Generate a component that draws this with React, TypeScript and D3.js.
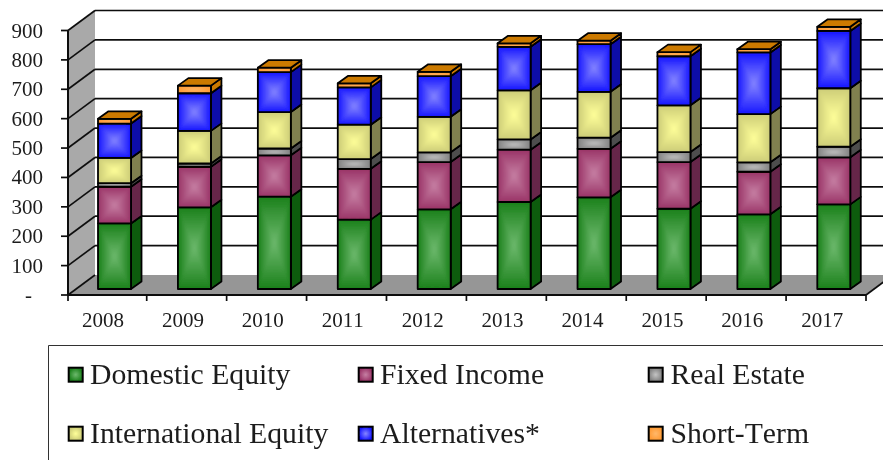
import React from 'react';
import * as d3 from 'd3';

const years = ['2008', '2009', '2010', '2011', '2012', '2013', '2014', '2015', '2016', '2017'];
const yTicks = [0, 100, 200, 300, 400, 500, 600, 700, 800, 900];

const domesticEquity = [223, 278, 314, 236, 271, 296, 312, 273, 254, 288];
const fixedIncome = [125, 138, 141, 173, 161, 178, 165, 159, 145, 160];
const realEstate = [12, 11, 23, 33, 33, 35, 38, 34, 32, 36];
const internationalEquity = [86, 111, 124, 117, 121, 167, 156, 159, 164, 199];
const alternatives = [117, 128, 136, 127, 138, 148, 162, 167, 210, 195];
const shortTerm = [16, 26, 15, 14, 15, 12, 12, 14, 11, 14];

const seriesKeys = ['Domestic Equity', 'Fixed Income', 'Real Estate', 'International Equity', 'Alternatives*', 'Short-Term'];
const seriesValues = [domesticEquity, fixedIncome, realEstate, internationalEquity, alternatives, shortTerm];

// edge, centre, side face
const palette = [
  ['#1a801a', '#6db96d', '#0e5c0e'],
  ['#993366', '#c67fa3', '#662649'],
  ['#808080', '#c4c4c4', '#4d4d4d'],
  ['#cccc77', '#ffff99', '#808050'],
  ['#1414ff', '#8585ff', '#0a0aa8'],
  ['#ff9a33', '#ffb86b', '#cc7a00'],
];

const legendOrder = [
  { series: 0, col: 0, row: 0 },
  { series: 1, col: 1, row: 0 },
  { series: 2, col: 2, row: 0 },
  { series: 3, col: 0, row: 1 },
  { series: 4, col: 1, row: 1 },
  { series: 5, col: 2, row: 1 },
];

const width = 883;
const height = 460;
const axisX = 68;
const depthX = 27;
const depthY = 20;
const barDepthX = 10.5;
const barDepthY = 7.5;
const barWidth = 33;
const barInset = 31.2;
const font = '"Liberation Serif", serif';

const x = d3.scaleBand<string>().domain(years).range([66.8, 866]);
const y = d3.scaleLinear().domain([0, 900]).range([295, 30.5]);

const tableRows = years.map((year, i) => {
  const row: Record<string, number | string> = { year };
  seriesKeys.forEach((k, s) => { row[k] = seriesValues[s][i]; });
  return row;
});
const stacked = d3.stack<any>().keys(seriesKeys)(tableRows);

const pts = (p: number[][]) => p.map(d => d.join(',')).join(' ');

// Excel style rectangular gradient: four triangles meeting in the middle, softened a bit
function GradientRect({ id, x0, y0, w, h, s }: { id: string; x0: number; y0: number; w: number; h: number; s: number }) {
  const cx = x0 + w / 2;
  const cy = y0 + h / 2;
  return (
    <g>
      <clipPath id={id}>
        <rect x={x0} y={y0} width={w} height={h} />
      </clipPath>
      <rect x={x0} y={y0} width={w} height={h} fill={palette[s][0]} />
      <g clipPath={`url(#${id})`}>
        <g filter="url(#faceBlur)" shapeRendering="crispEdges">
          <polygon points={pts([[x0, y0], [x0 + w, y0], [cx, cy]])} fill={`url(#g${s}-t)`} />
          <polygon points={pts([[x0, y0 + h], [x0 + w, y0 + h], [cx, cy]])} fill={`url(#g${s}-b)`} />
          <polygon points={pts([[x0, y0], [x0, y0 + h], [cx, cy]])} fill={`url(#g${s}-l)`} />
          <polygon points={pts([[x0 + w, y0], [x0 + w, y0 + h], [cx, cy]])} fill={`url(#g${s}-r)`} />
        </g>
      </g>
    </g>
  );
}

function Bar({ index }: { index: number }) {
  const bx = (x(years[index]) as number) + barInset;
  return (
    <g stroke="#000" strokeWidth={1.8} strokeLinejoin="round">
      {stacked.map((layer, s) => {
        const top = y(layer[index][1]) - 6;
        const bottom = y(layer[index][0]) - 6;
        const right = bx + barWidth;
        return (
          <g key={s}>
            <polygon
              points={pts([[right, bottom], [right + barDepthX, bottom - barDepthY], [right + barDepthX, top - barDepthY], [right, top]])}
              fill={palette[s][2]}
            />
            <g stroke="none">
              <GradientRect id={`clip${index}-${s}`} x0={bx} y0={top} w={barWidth} h={bottom - top} s={s} />
            </g>
            <rect x={bx} y={top} width={barWidth} height={bottom - top} fill="none" />
            {s === stacked.length - 1 && (
              <polygon
                points={pts([[bx, top], [bx + barDepthX, top - barDepthY], [right + barDepthX, top - barDepthY], [right, top]])}
                fill="#cc7a00"
              />
            )}
          </g>
        );
      })}
    </g>
  );
}

export default function App() {
  const dirs: Record<string, [number, number, number, number]> = {
    t: [0, 0, 0, 1],
    b: [0, 1, 0, 0],
    l: [0, 0, 1, 0],
    r: [1, 0, 0, 0],
  };
  const colX = [68.7, 358.7, 648.7];
  const rowY = [367.7, 426.7];
  const textX = [90, 380, 670.5];
  const textY = [384, 443];
  const band = x.bandwidth();

  return (
    <svg width={width} height={height} style={{ position: 'absolute', left: 0, top: 0, display: 'block', fontKerning: 'none' }}>
      <defs>
        {palette.map((c, s) =>
          Object.entries(dirs).map(([k, d]) => (
            <linearGradient key={`${s}${k}`} id={`g${s}-${k}`} x1={d[0]} y1={d[1]} x2={d[2]} y2={d[3]}>
              <stop offset="0" stopColor={c[0]} />
              <stop offset="1" stopColor={c[1]} />
            </linearGradient>
          ))
        )}
        {palette.map((c, s) => (
          <radialGradient key={s} id={`sw${s}`}>
            <stop offset="0" stopColor={c[1]} />
            <stop offset="1" stopColor={c[0]} />
          </radialGradient>
        ))}
        <filter id="soft" x="0" y="0" width={width} height={height} filterUnits="userSpaceOnUse">
          <feGaussianBlur stdDeviation="0.45" />
        </filter>
        <filter id="faceBlur" x="-0.2" y="-0.2" width="1.4" height="1.4">
          <feGaussianBlur stdDeviation="1.6" />
        </filter>
      </defs>
      <rect width={width} height={height} fill="#fff" />
      <g filter="url(#soft)">
        {/* walls */}
        <polygon
          points={pts([[axisX, y(0)], [axisX + depthX, y(0) - depthY], [axisX + depthX, y(900) - depthY], [axisX, y(900)]])}
          fill="#a9a9a9"
        />
        <polygon
          points={pts([[axisX, y(0)], [866, y(0)], [866 + depthX, y(0) - depthY], [axisX + depthX, y(0) - depthY]])}
          fill="#969696"
        />

        {/* gridlines */}
        <g stroke="#111" strokeWidth={1.7} fill="none">
          {yTicks.map(t => (
            <g key={t}>
              <line x1={61} x2={axisX} y1={y(t)} y2={y(t)} />
              <line x1={axisX} x2={axisX + depthX} y1={y(t)} y2={y(t) - depthY} />
              {t > 0 && <line x1={axisX + depthX} x2={width} y1={y(t) - depthY} y2={y(t) - depthY} />}
            </g>
          ))}
          <line x1={axisX} x2={axisX} y1={y(900)} y2={y(0)} strokeWidth={2} />
          <line x1={axisX} x2={866} y1={y(0)} y2={y(0)} strokeWidth={2} />
          <line x1={866} x2={866 + depthX} y1={y(0)} y2={y(0) - depthY} />
          {[...years.map(d => Math.max(x(d) as number, axisX)), 866].map(v => (
            <line key={v} x1={v} x2={v} y1={y(0)} y2={y(0) + 6} />
          ))}
        </g>

        {years.map((d, i) => <Bar key={d} index={i} />)}

        {/* axis labels */}
        <g fontFamily={font} fontSize={21} fill="#1c1c1c">
          {yTicks.map(t => (
            <text key={t} x={t === 0 ? 32 : 43} y={y(t) + 7} textAnchor="end">{t === 0 ? '-' : t}</text>
          ))}
          {years.map(d => (
            <text key={d} x={(x(d) as number) + band / 2 - 3.8} y={327} textAnchor="middle">{d}</text>
          ))}
        </g>

        {/* legend */}
        <path d={`M48.5,${height} V345.5 H${width}`} fill="none" stroke="#333" strokeWidth={1} />
        {legendOrder.map(({ series, col, row }) => (
          <g key={series}>
            <rect
              x={colX[col]}
              y={rowY[row]}
              width={14}
              height={14}
              fill={`url(#sw${series})`}
              stroke="#000"
              strokeWidth={2}
            />
            <text x={textX[col]} y={textY[row]} fontFamily={font} fontSize={29.7} fill="#1c1c1c">
              {seriesKeys[series]}
            </text>
          </g>
        ))}
      </g>
    </svg>
  );
}
